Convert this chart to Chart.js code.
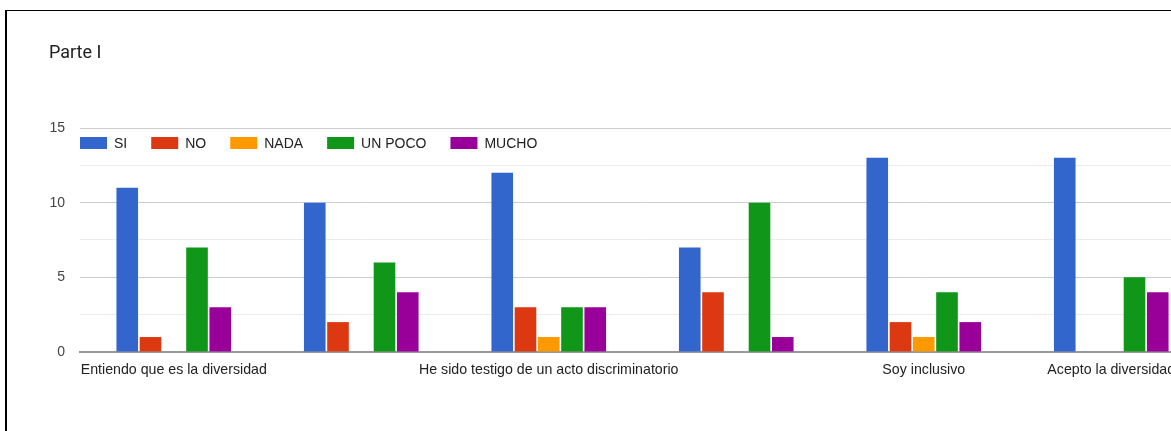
<!DOCTYPE html>
<html>
<head>
<meta charset="utf-8">
<script src="https://cdn.jsdelivr.net/npm/chart.js@4"></script>
<style>
    html, body { margin: 0; padding: 0; background: #fff; overflow: hidden; }
    body { width: 1171px; height: 431px; position: relative; }
    .frame { position: absolute; left: 5px; top: 10px; right: 0; bottom: 0;
             border-left: 2px solid #000; border-top: 1px solid #000; }
    .title { position: absolute; left: 49px; top: 43px; font: 18px Roboto, sans-serif;
             line-height: 18px; color: #222; }
    .chart-box { position: absolute; left: 0; top: 0; width: 1215px; height: 431px; }
</style>
</head>
<body>
<div class="frame"></div>
<div class="chart-box"><canvas id="chart"></canvas></div>
<div class="title">Parte I</div>
<script>
// Datos
const categorias = [
    'Entiendo que es la diversidad',
    '',
    'He sido testigo de un acto discriminatorio',
    '',
    'Soy inclusivo',
    'Acepto la diversidad'
];
const si      = [11, 10, 12, 7, 13, 13];
const no      = [1, 2, 3, 4, 2, 0];
const nada    = [0, 0, 1, 0, 1, 0];
const unPoco  = [7, 6, 3, 10, 4, 5];
const mucho   = [3, 4, 3, 1, 2, 4];
const ticksY  = [0, 5, 10, 15];

const series = [
    { label: 'SI', data: si, color: '#3366cc' },
    { label: 'NO', data: no, color: '#dc3912' },
    { label: 'NADA', data: nada, color: '#ff9900' },
    { label: 'UN POCO', data: unPoco, color: '#109618' },
    { label: 'MUCHO', data: mucho, color: '#990099' }
];

const FONT = 'Liberation Sans, Arial, sans-serif';

// Leyenda dibujada dentro del área del gráfico (arriba a la izquierda)
const leyendaInterna = {
    id: 'leyendaInterna',
    afterDraw(chart) {
        const { ctx, chartArea } = chart;
        let x = chartArea.left;
        const yc = chartArea.top + 15;
        ctx.save();
        ctx.font = '14px ' + FONT;
        ctx.textBaseline = 'middle';
        ctx.textAlign = 'left';
        chart.data.datasets.forEach(ds => {
            ctx.fillStyle = ds.backgroundColor;
            ctx.fillRect(x, yc - 6, 27, 12);
            ctx.fillStyle = '#222';
            ctx.fillText(ds.label, x + 34, yc + 1);
            x += 34 + ctx.measureText(ds.label).width + 24;
        });
        ctx.restore();
    }
};

const ctx = document.getElementById('chart').getContext('2d');
new Chart(ctx, {
    type: 'bar',
    data: {
        labels: categorias,
        datasets: series.map(s => ({
            label: s.label,
            data: s.data,
            backgroundColor: s.color,
            borderWidth: 0,
            categoryPercentage: 0.62,
            barPercentage: 0.93
        }))
    },
    options: {
        responsive: true,
        maintainAspectRatio: false,
        animation: false,
        layout: { padding: { top: 128, right: 10, bottom: 42, left: 0 } },
        plugins: {
            legend: { display: false },
            tooltip: { enabled: false }
        },
        scales: {
            x: {
                grid: { display: false, drawTicks: false },
                border: { display: true, color: '#999', width: 2 },
                ticks: {
                    autoSkip: false,
                    maxRotation: 0,
                    padding: 10,
                    color: '#222',
                    font: { family: FONT, size: 14.2 }
                }
            },
            y: {
                min: 0,
                max: 15,
                afterFit(scale) { scale.width = 80; },
                border: { display: false },
                grid: {
                    drawTicks: false,
                    color: c => (c.tick.value % 5 === 0 ? '#cccccc' : '#ebebeb')
                },
                ticks: {
                    stepSize: 2.5,
                    padding: 15,
                    color: '#444',
                    font: { family: FONT, size: 14 },
                    callback: v => (ticksY.includes(v) ? v : '')
                }
            }
        }
    },
    plugins: [leyendaInterna]
});
</script>
</body>
</html>
